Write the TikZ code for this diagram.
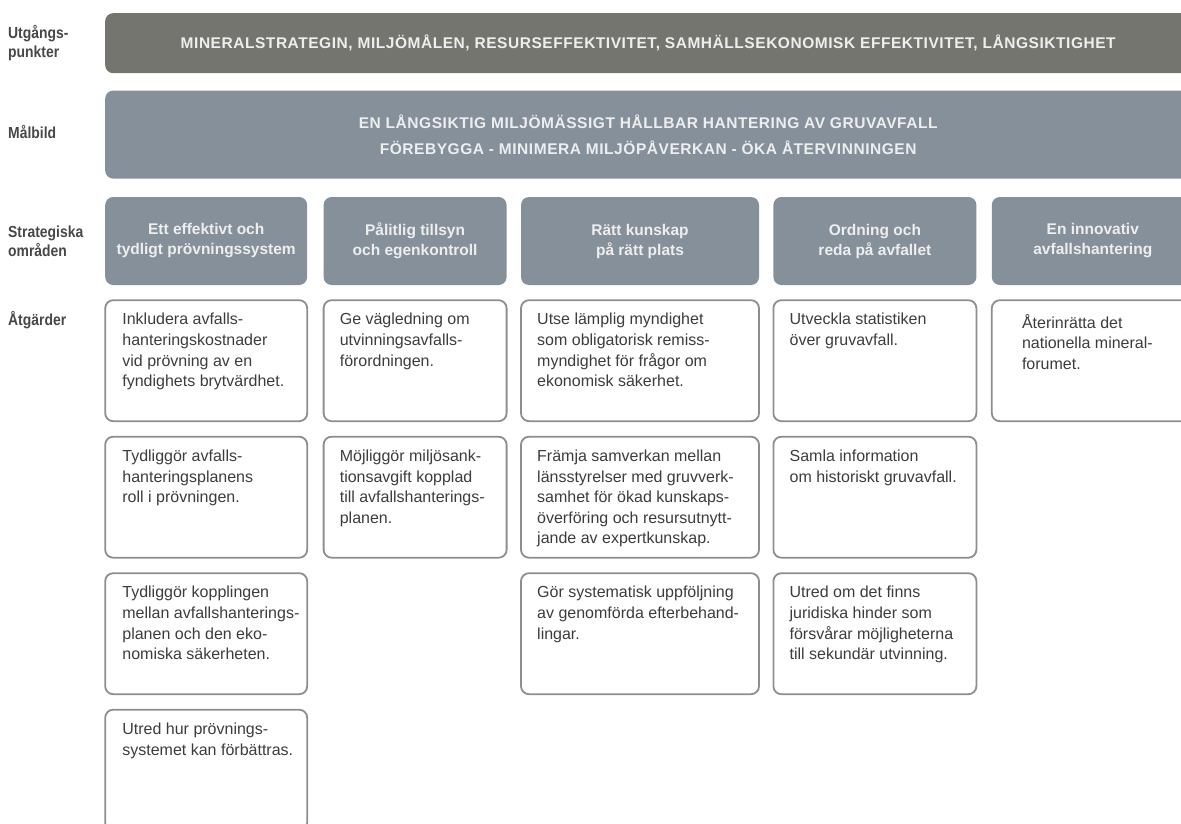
\documentclass[tikz,border=0pt]{standalone}
\usepackage{fontspec}
\setmainfont{Liberation Sans}
\newfontfamily\capsfont{Liberation Sans}[LetterSpace=3.5]
\newfontfamily\labelfont{Liberation Sans}[FakeStretch=0.87]
\usetikzlibrary{positioning}

\definecolor{topgray}{HTML}{75756F}
\definecolor{bandgray}{HTML}{86909A}
\definecolor{linegray}{HTML}{8E8E8E}
\definecolor{bodytext}{HTML}{3C3C3C}
\definecolor{labeltext}{HTML}{474747}
\definecolor{bandtext}{HTML}{EEEEEE}

\begin{document}
\begin{tikzpicture}[x=1pt, y=-1pt,
    band/.style={rounded corners=8pt, anchor=north west, minimum width=1086pt,
                 inner sep=0pt, align=center, text=bandtext,
                 font=\capsfont\bfseries\fontsize{15.5}{26.5}\selectfont},
    stratbox/.style={fill=bandgray, rounded corners=8pt, anchor=north west,
                 minimum height=88pt, inner sep=0pt, align=center, text=bandtext,
                 font=\bfseries\fontsize{15.5}{20}\selectfont},
    atgbox/.style={draw=linegray, line width=1.8pt, rounded corners=8pt,
                 minimum height=121pt, inner sep=0pt, outer sep=0pt},
    atgtext/.style={anchor=north west, align=left, inner sep=0pt, text=bodytext,
                 font=\fontsize{16}{20.6}\selectfont},
    rowlabel/.style={anchor=west, align=left, inner sep=0pt, text=labeltext,
                 font=\labelfont\bfseries\fontsize{16}{19}\selectfont}]

  \useasboundingbox (0,0) rectangle (1181,824);
  \clip (0,0) rectangle (1181,824);

  % utgangspunkter och malbild
  \node[band, fill=topgray, minimum height=60pt] (utg) at (105,13)
    {MINERALSTRATEGIN, MILJÖMÅLEN, RESURSEFFEKTIVITET, SAMHÄLLSEKONOMISK EFFEKTIVITET, LÅNGSIKTIGHET};
  \node[band, fill=bandgray, minimum height=88pt, below=17pt of utg.south west, anchor=north west] (mal)
    {EN LÅNGSIKTIG MILJÖMÄSSIGT HÅLLBAR HANTERING AV GRUVAVFALL\\
     FÖREBYGGA - MINIMERA MILJÖPÅVERKAN - ÖKA ÅTERVINNINGEN};

  % strategiska omraden
  \node[stratbox, minimum width=202pt, below=18pt of mal.south west, anchor=north west] (s1)
    {Ett effektivt och\\tydligt prövningssystem};
  \node[stratbox, minimum width=183pt, right=16pt of s1] (s2) {Pålitlig tillsyn\\och egenkontroll};
  \node[stratbox, minimum width=238pt, right=14pt of s2] (s3) {Rätt kunskap\\på rätt plats};
  \node[stratbox, minimum width=203pt, right=14pt of s3] (s4) {Ordning och\\reda på avfallet};
  \node[stratbox, minimum width=202pt, right=15pt of s4] (s5) {En innovativ\\avfallshantering};

  % atgarder, en kolumn i taget
  \node[atgbox, minimum width=202pt, below=15pt of s1] (a11) {};
  \node[atgbox, minimum width=202pt, below=15.5pt of a11] (a12) {};
  \node[atgbox, minimum width=202pt, below=15.5pt of a12] (a13) {};
  \node[atgbox, minimum width=202pt, below=15.5pt of a13] (a14) {};

  \node[atgbox, minimum width=183pt, below=15pt of s2] (a21) {};
  \node[atgbox, minimum width=183pt, below=15.5pt of a21] (a22) {};

  \node[atgbox, minimum width=238pt, below=15pt of s3] (a31) {};
  \node[atgbox, minimum width=238pt, below=15.5pt of a31] (a32) {};
  \node[atgbox, minimum width=238pt, below=15.5pt of a32] (a33) {};

  \node[atgbox, minimum width=203pt, below=15pt of s4] (a41) {};
  \node[atgbox, minimum width=203pt, below=15.5pt of a41] (a42) {};
  \node[atgbox, minimum width=203pt, below=15.5pt of a42] (a43) {};

  \node[atgbox, minimum width=202pt, below=15pt of s5] (a51) {};

  \node[atgtext] (a11t) at ([xshift=17pt, yshift=-13pt]a11.north west)
    {Inkludera avfalls-\\hanteringskostnader\\vid prövning av en\\fyndighets brytvärdhet.};
  \node[atgtext] (a12t) at ([xshift=17pt, yshift=-13pt]a12.north west)
    {Tydliggör avfalls-\\hanteringsplanens\\roll i prövningen.};
  \node[atgtext] (a13t) at ([xshift=17pt, yshift=-13pt]a13.north west)
    {Tydliggör kopplingen\\mellan avfallshanterings-\\planen och den eko-\\nomiska säkerheten.};
  \node[atgtext] (a14t) at ([xshift=17pt, yshift=-13pt]a14.north west)
    {Utred hur prövnings-\\systemet kan förbättras.};

  \node[atgtext] (a21t) at ([xshift=16pt, yshift=-13pt]a21.north west)
    {Ge vägledning om\\utvinningsavfalls-\\förordningen.};
  \node[atgtext] (a22t) at ([xshift=16pt, yshift=-13pt]a22.north west)
    {Möjliggör miljösank-\\tionsavgift kopplad\\till avfallshanterings-\\planen.};

  \node[atgtext] (a31t) at ([xshift=16pt, yshift=-13pt]a31.north west)
    {Utse lämplig myndighet\\som obligatorisk remiss-\\myndighet för frågor om\\ekonomisk säkerhet.};
  \node[atgtext] (a32t) at ([xshift=16pt, yshift=-13pt]a32.north west)
    {Främja samverkan mellan\\länsstyrelser med gruvverk-\\samhet för ökad kunskaps-\\överföring och resursutnytt-\\jande av expertkunskap.};
  \node[atgtext] (a33t) at ([xshift=16pt, yshift=-13pt]a33.north west)
    {Gör systematisk uppföljning\\av genomförda efterbehand-\\lingar.};

  \node[atgtext] (a41t) at ([xshift=16pt, yshift=-13pt]a41.north west)
    {Utveckla statistiken\\över gruvavfall.};
  \node[atgtext] (a42t) at ([xshift=16pt, yshift=-13pt]a42.north west)
    {Samla information\\om historiskt gruvavfall.};
  \node[atgtext] (a43t) at ([xshift=16pt, yshift=-13pt]a43.north west)
    {Utred om det finns\\juridiska hinder som\\försvårar möjligheterna\\till sekundär utvinning.};

  \node[atgtext] (a51t) at ([xshift=30pt, yshift=-14pt]a51.north west)
    {Återinrätta det\\nationella mineral-\\forumet.};

  % radetiketter
  \node[rowlabel] (lutg) at (utg.west -| 8,0) {Utgångs-\\punkter};
  \node[rowlabel] (lmal) at ([yshift=3pt]mal.west -| 8,0) {Målbild};
  \node[rowlabel] (lstr) at (s1.west -| 8,0) {Strategiska\\områden};
  \node[rowlabel, anchor=base west] (latg) at (8,325) {Åtgärder};
\end{tikzpicture}
\end{document}
